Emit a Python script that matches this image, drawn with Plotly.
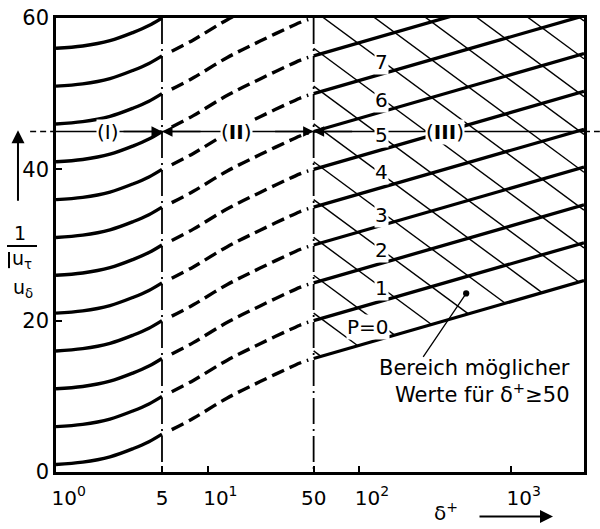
import numpy as np
import plotly.graph_objects as go

# ---------------- data ----------------
# Region I (1 <= delta+ <= 5): solid curves
region1_x = [1, 1.5, 2.27, 3.24, 4.1, 5]
region1_curves = [
    [1.0, 1.3, 2.0, 3.1, 4.0, 5.0],
    [6.0, 6.3, 7.0, 8.1, 9.0, 10.0],
    [11.0, 11.3, 12.0, 13.1, 14.0, 15.0],
    [16.0, 16.3, 17.0, 18.1, 19.0, 20.0],
    [21.0, 21.3, 22.0, 23.1, 24.0, 25.0],
    [26.0, 26.3, 27.0, 28.1, 29.0, 30.0],
    [31.0, 31.3, 32.0, 33.1, 34.0, 35.0],
    [36.0, 36.3, 37.0, 38.1, 39.0, 40.0],
    [41.0, 41.3, 42.0, 43.1, 44.0, 45.0],
    [46.0, 46.3, 47.0, 48.1, 49.0, 50.0],
    [51.0, 51.3, 52.0, 53.1, 54.0, 55.0],
    [56.0, 56.3, 57.0, 58.1, 59.0, 60.0],
]

# Region II (5 < delta+ < 50): dashed transition curves
region2_x = [5.8, 8.05, 13.4, 22.2, 40.6, 46.1]
region2_curves = [
    [5.6, 7.1, 9.75, 11.95, 14.4, 14.8],
    [10.6, 12.1, 14.75, 16.95, 19.4, 19.8],
    [15.6, 17.1, 19.75, 21.95, 24.4, 24.8],
    [20.6, 22.1, 24.75, 26.95, 29.4, 29.8],
    [25.6, 27.1, 29.75, 31.95, 34.4, 34.8],
    [30.6, 32.1, 34.75, 36.95, 39.4, 39.8],
    [35.6, 37.1, 39.75, 41.95, 44.4, 44.8],
    [40.6, 42.1, 44.75, 46.95, 49.4, 49.8],
    [45.6, 47.1, 49.75, 51.95, 54.4, 54.8],
    [50.6, 52.1, 54.75, 56.95, 59.4, 59.8],
    [55.6, 57.1, 59.75, 61.95, 64.4, 64.8],
]

# Region III (delta+ >= 50): straight lines for P = 0 ... 8
region3_x = [50, 3034]
p_line_start = [15, 20, 25, 30, 35, 40, 45, 50, 55]
p_line_end = [25.3, 30.3, 35.3, 40.3, 45.3, 50.3, 55.3, 60.3, 65.3]

# Hatch lines of the "possible values" region (value at delta+ = 50, slope per decade)
hatch_start = [16, 21, 26, 31, 36, 41, 46, 51, 56, 61, 66, 71, 76, 81, 86]
hatch_slope = -14.8

# Curve labels
p_label_text = ["P=0", "1", "2", "3", "4", "5", "6", "7"]
p_label_x = [114, 141, 141, 141, 141, 141, 141, 141]
p_label_y = [19.2, 24.3, 29.3, 34.0, 39.6, 44.5, 49.2, 54.2]

# Region boundaries and the y = 45 marker line
boundary_x = [5, 50]
marker_level = 45
region_labels = ["(I)", "(<b>II</b>)", "(<b>III</b>)"]
region_label_x = [2.2, 15.6, 370]

# Axis ticks
NB = "\u00a0"
x_tickvals = [1, 5, 10, 50, 100, 1000]
x_ticktext = [NB * 4 + "10<sup>0</sup>", "5", NB * 4 + "10<sup>1</sup>", "50",
              NB * 4 + "10<sup>2</sup>", NB * 4 + "10<sup>3</sup>"]
y_tickvals = [0, 20, 40, 60]

XMAX_LOG = np.log10(region3_x[1])
FONT = "DejaVu Sans"

fig = go.Figure()

# ---- hatch lines (thin) ----
L50 = np.log10(region3_x[0])
p0_slope = (p_line_end[0] - p_line_start[0]) / (XMAX_LOG - L50)
for v in hatch_start:
    d_end = (v - p_line_start[0]) / (-hatch_slope + p0_slope)
    L_end = min(L50 + d_end, XMAX_LOG)
    fig.add_trace(go.Scatter(
        x=[region3_x[0], 10 ** L_end],
        y=[v, v + hatch_slope * (L_end - L50)],
        mode="lines", line=dict(color="black", width=1.4),
        hoverinfo="skip"))

# ---- P lines ----
for s, e in zip(p_line_start, p_line_end):
    fig.add_trace(go.Scatter(x=region3_x, y=[s, e], mode="lines",
                             line=dict(color="black", width=3.3), hoverinfo="skip"))

# ---- region I ----
for c in region1_curves:
    fig.add_trace(go.Scatter(x=region1_x, y=c, mode="lines",
                             line=dict(color="black", width=3.4, shape="spline", smoothing=1.0),
                             hoverinfo="skip"))

# ---- region II ----
for c in region2_curves:
    fig.add_trace(go.Scatter(x=region2_x, y=c, mode="lines",
                             line=dict(color="black", width=3.4, dash="13px,6px",
                                       shape="spline", smoothing=1.0),
                             hoverinfo="skip"))

# ---- boundaries (dash-dot) ----
for bx in boundary_x:
    fig.add_trace(go.Scatter(x=[bx, bx], y=[60, 0], mode="lines",
                             line=dict(color="black", width=1.8, dash="26px,5px,2px,5px"),
                             hoverinfo="skip"))

# ---- y = 45 line ----
fig.add_trace(go.Scatter(x=[1, region3_x[1]], y=[marker_level, marker_level], mode="lines",
                         line=dict(color="black", width=1.5), hoverinfo="skip"))

annotations = []
# region labels
for t, xv in zip(region_labels, region_label_x):
    annotations.append(dict(x=np.log10(xv), y=marker_level, xref="x", yref="y", text=t,
                            showarrow=False, bgcolor="white", borderpad=0,
                            font=dict(size=20, family=FONT)))
# arrows at boundaries
for bx, off in [(boundary_x[0], -40), (boundary_x[0], 40), (boundary_x[1], -40), (boundary_x[1], 40)]:
    annotations.append(dict(x=np.log10(bx), y=marker_level, xref="x", yref="y", text="",
                            showarrow=True, ax=off, ay=0, arrowhead=2, arrowsize=1.4,
                            arrowwidth=1.5, arrowcolor="black", standoff=0))
# P labels
for t, xv, yv in zip(p_label_text, p_label_x, p_label_y):
    annotations.append(dict(x=np.log10(xv), y=yv, xref="x", yref="y", text=t,
                            showarrow=False, bgcolor="white", borderpad=0,
                            font=dict(size=20, family=FONT)))
# region text with pointer
annotations.append(dict(x=0.977, y=0.2, xref="paper", yref="paper",
                        xanchor="right", yanchor="middle",
                        text="Bereich möglicher<br>Werte für δ<sup>+</sup>≥50",
                        showarrow=False, align="right", font=dict(size=21, family=FONT)))
annotations.append(dict(x=2.705, y=23.6, xref="x", yref="y", text="", showarrow=True,
                        ax=-44, ay=65, arrowhead=6, arrowsize=1.2, arrowwidth=1.3,
                        arrowcolor="black", standoff=0))
# y-axis title pieces
annotations += [
    dict(x=-0.068, y=0.5264, xref="paper", yref="paper", text="1", showarrow=False,
         xanchor="center", yanchor="middle", font=dict(size=19, family=FONT)),
    dict(x=-0.064, y=0.467, xref="paper", yref="paper", text="u<sub>τ</sub>", showarrow=False,
         xanchor="center", yanchor="middle", font=dict(size=19, family=FONT)),
    dict(x=-0.062, y=0.405, xref="paper", yref="paper", text="u<sub>δ</sub>", showarrow=False,
         xanchor="center", yanchor="middle", font=dict(size=19, family=FONT)),
    dict(x=-0.072, y=0.753, xref="paper", yref="paper", text="", showarrow=True, ax=0, ay=72,
         arrowhead=2, arrowsize=1.3, arrowwidth=2, arrowcolor="black", standoff=0),
    # x-axis title
    dict(x=0.7386, y=-0.088, xref="paper", yref="paper", text="δ<sup>+</sup>", showarrow=False,
         xanchor="center", yanchor="middle", font=dict(size=20, family=FONT)),
    dict(x=0.9413, y=-0.098, xref="paper", yref="paper", text="", showarrow=True, ax=-75, ay=0,
         arrowhead=2, arrowsize=1.3, arrowwidth=2, arrowcolor="black", standoff=0),
]

shapes = [
    # fraction bar and vertical stroke of the y title
    dict(type="line", xref="paper", yref="paper", x0=-0.0928, x1=-0.036, y0=0.4978, y1=0.4978,
         line=dict(color="black", width=2)),
    dict(type="line", xref="paper", yref="paper", x0=-0.089, x1=-0.089, y0=0.449, y1=0.4846,
         line=dict(color="black", width=2)),
    # dashed continuations of the y = 45 line outside the frame
    dict(type="line", xref="paper", yref="paper", x0=-0.049, x1=0, y0=0.75, y1=0.75,
         line=dict(color="black", width=1.5, dash="6px,4px")),
    dict(type="line", xref="paper", yref="paper", x0=1.0, x1=1.03, y0=0.75, y1=0.75,
         line=dict(color="black", width=1.5, dash="6px,4px")),
]

fig.update_layout(
    width=600, height=529,
    margin=dict(l=56, r=16, t=18, b=57, autoexpand=False),
    paper_bgcolor="white", plot_bgcolor="white", showlegend=False,
    font=dict(family=FONT, color="black", size=20),
    annotations=annotations, shapes=shapes,
    xaxis=dict(type="log", range=[0, XMAX_LOG], tickvals=x_tickvals, ticktext=x_ticktext,
               ticks="inside", ticklen=6, tickwidth=2, tickcolor="black", automargin=False,
               ticklabelstandoff=6,
               showgrid=False, zeroline=False, showline=True, linewidth=2.5,
               linecolor="black", mirror=True, tickfont=dict(size=20, family=FONT)),
    yaxis=dict(range=[0, 60], tickvals=y_tickvals, ticks="inside", ticklen=6, tickwidth=2,
               tickcolor="black", showgrid=False, zeroline=False, showline=True,
               linewidth=2.5, linecolor="black", mirror=True, automargin=False,
               tickfont=dict(size=21, family=FONT)),
)

fig.write_html("out.html", config={"displayModeBar": False},
               post_script="document.body.style.margin='0px';document.body.style.overflow='hidden';")
